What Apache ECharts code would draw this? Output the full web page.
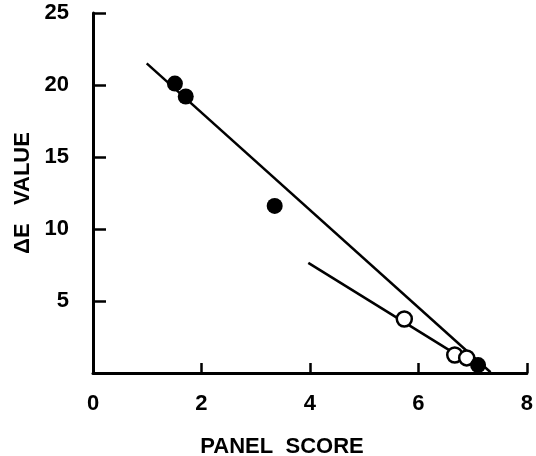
<html>
<head>
<script src="https://cdn.jsdelivr.net/npm/echarts@6/dist/echarts.min.js"></script>
<style>
  body { margin: 0; background: #fff; }
  #chart { width: 536px; height: 456px; }
</style>
</head>
<body>
<div id="chart"></div>
<script type="text/javascript">

// filled circles
var filledX = [1.51, 1.71, 3.35, 7.10];
var filledY = [20.1, 19.2, 11.6, 0.55];
// open circles
var openX = [5.74, 6.67, 6.89];
var openY = [3.75, 1.25, 1.05];
// fitted lines (end points)
var line1X = [0.99, 7.33];
var line1Y = [21.5, 0.05];
var line2X = [3.97, 6.65];
var line2Y = [7.65, 1.4];

function pairs(xs, ys) {
    return xs.map(function (x, i) { return [x, ys[i]]; });
}

var labelFont = {
    color: '#000',
    fontFamily: 'Liberation Sans',
    fontWeight: 'bold',
    fontSize: 22
};

var option = {
    animation: false,
    backgroundColor: '#fff',
    grid: { left: 93, right: 8, top: 13, bottom: 83 },
    xAxis: {
        type: 'value',
        min: 0, max: 8, interval: 2,
        axisLine: { lineStyle: { color: '#000', width: 3 } },
        axisTick: { inside: true, length: 10, lineStyle: { color: '#000', width: 2.5 } },
        splitLine: { show: false },
        axisLabel: Object.assign({ margin: 20 }, labelFont)
    },
    yAxis: {
        type: 'value',
        min: 0, max: 25, interval: 5,
        name: 'ΔE   VALUE',
        nameLocation: 'middle',
        nameGap: 58,
        nameTextStyle: labelFont,
        axisLine: { lineStyle: { color: '#000', width: 3 } },
        axisTick: { inside: true, length: 13, lineStyle: { color: '#000', width: 2.5 } },
        splitLine: { show: false },
        axisLabel: Object.assign({
            margin: 24,
            padding: [6, 0, 0, 0],
            formatter: function (v) { return v === 0 ? '' : v; }
        }, labelFont)
    },
    graphic: [{
        type: 'text',
        x: 282,
        y: 447,
        style: {
            text: 'PANEL  SCORE',
            fill: '#000',
            font: 'bold 22px "Liberation Sans"',
            align: 'center',
            verticalAlign: 'middle'
        }
    }],
    series: [
        {
            type: 'line',
            data: pairs(line1X, line1Y),
            symbol: 'none',
            lineStyle: { color: '#000', width: 2.5 },
            z: 2
        },
        {
            type: 'line',
            data: pairs(line2X, line2Y),
            symbol: 'none',
            lineStyle: { color: '#000', width: 2.5 },
            z: 2
        },
        {
            type: 'scatter',
            data: pairs(openX, openY),
            symbolSize: 15,
            itemStyle: { color: '#fff', borderColor: '#000', borderWidth: 2.5, opacity: 1 },
            z: 3
        },
        {
            type: 'scatter',
            data: pairs(filledX, filledY),
            symbolSize: 16,
            itemStyle: { color: '#000', opacity: 1 },
            z: 4
        }
    ]
};

var chart = echarts.init(document.getElementById('chart'));
chart.setOption(option);

</script>
</body>
</html>
